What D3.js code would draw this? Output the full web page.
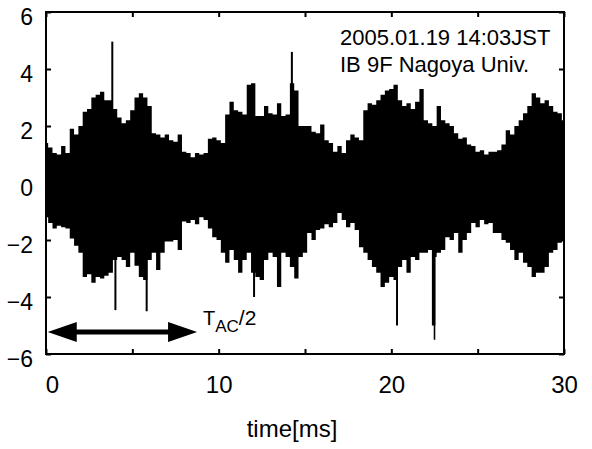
<!DOCTYPE html>
<html>
<head>
<meta charset="utf-8">
<script src="https://cdn.jsdelivr.net/npm/d3@7"></script>
<style>
  body{margin:0;background:#fff;}
  svg text{font-family:"Liberation Sans",Arial,sans-serif;fill:#000;}
</style>
</head>
<body>
<svg id="chart" width="592" height="449"></svg>
<script>
// envelope of the noise signal, read every 0.25 ms (0..30 ms)
var step = 0.25;
var upper = [
  1.4,1.25,1.05,1.0,1.3,1.05,1.9,1.7,2.0,2.5,2.6,3.0,3.1,3.2,2.9,2.9,2.6,2.3,2.1,2.2,2.55,3.0,3.15,3.0,2.7,1.75,1.7,1.6,1.7,1.5,1.45,
  1.7,1.1,1.05,0.9,1.05,1.0,1.05,1.55,1.6,1.5,1.4,2.4,2.85,2.55,2.5,2.4,3.45,3.5,2.35,2.35,2.7,2.45,2.4,2.8,2.35,2.4,3.5,3.25,2.0,2.0,
  2.0,1.8,1.75,2.05,1.5,1.4,1.1,1.3,1.05,1.5,1.7,1.6,1.5,2.55,2.8,2.75,2.9,3.1,3.25,3.3,3.45,2.9,2.7,2.8,2.6,2.85,3.3,2.2,2.1,2.0,
  2.7,2.2,2.1,2.0,1.75,1.55,1.6,1.35,1.3,1.1,1.15,1.0,1.1,1.1,1.15,1.35,1.85,1.7,2.0,2.2,2.45,2.7,3.15,3.0,2.8,2.9,2.7,2.5,2.45,2.2
];
var lower = [
  -1.2,-1.4,-1.6,-1.5,-1.55,-1.6,-1.95,-2.2,-2.45,-3.3,-3.2,-3.5,-3.3,-3.35,-3.25,-3.15,-2.7,-2.6,-2.7,-2.95,-2.45,-2.9,-3.3,-3.4,-2.7,-2.45,-3.05,-2.45,-2.05,-2.05,-2.0,
  -2.35,-1.35,-1.4,-1.3,-1.45,-1.2,-1.3,-1.6,-1.9,-2.0,-2.45,-2.8,-2.35,-2.7,-3.15,-2.7,-2.45,-3.15,-3.3,-3.4,-2.7,-2.45,-2.6,-3.65,-2.45,-2.6,-2.95,-3.35,-2.6,-2.45,
  -1.75,-2.0,-1.65,-1.6,-1.45,-1.55,-1.4,-1.05,-1.3,-1.55,-1.4,-1.65,-2.25,-2.45,-2.7,-2.95,-3.15,-3.65,-3.5,-3.3,-3.4,-2.95,-2.7,-3.15,-2.6,-2.7,-2.45,-2.45,-2.35,-2.6,
  -2.45,-2.35,-1.9,-2.0,-1.75,-2.45,-2.0,-1.75,-1.4,-1.55,-1.3,-1.45,-1.4,-1.75,-1.75,-2.0,-2.1,-2.35,-2.7,-2.45,-2.8,-2.95,-3.3,-3.15,-3.15,-2.95,-2.45,-2.35,-2.1,-2.0
];
// isolated spikes
var spikeT = [3.84, 4.02, 5.83, 12.05, 14.24, 20.33, 22.45, 22.5];
var spikeV = [4.96, -4.46, -4.5, -4.0, 4.6, -5.0, -5.0, -5.5];
var spikeW = [2, 2, 2, 2, 2, 2, 3.5, 1.6];

var xTicks = [0, 10, 20, 30];
var xMinor = [0, 5, 10, 15, 20, 25, 30];
var yTicks = [-6, -4, -2, 0, 2, 4, 6];
var infoLines = ["2005.01.19 14:03JST", "IB 9F Nagoya Univ."];
var arrowSpan = [0.1, 8.75];

var svg = d3.select("#chart");
var x = d3.scaleLinear().domain([0, 30]).range([46, 564]);
var y = d3.scaleLinear().domain([-6, 6]).range([354, 12]);

var samples = upper.map(function(u, i){ return {t: i * step, hi: u, lo: lower[i]}; });

svg.append("clipPath").attr("id", "clip")
    .append("rect").attr("x", 46).attr("y", 12).attr("width", 518).attr("height", 342);

var plot = svg.append("g").attr("clip-path", "url(#clip)");

var area = d3.area()
    .x(function(d){ return x(d.t); })
    .y0(function(d){ return y(d.lo); })
    .y1(function(d){ return y(d.hi); })
    .curve(d3.curveStep);

plot.append("path").datum(samples)
    .attr("d", area)
    .attr("fill", "#000");

plot.selectAll("line.spike").data(spikeT).enter().append("line")
    .attr("class", "spike")
    .attr("x1", function(d){ return x(d); })
    .attr("x2", function(d){ return x(d); })
    .attr("y1", y(0))
    .attr("y2", function(d, i){ return y(spikeV[i]); })
    .attr("stroke", "#000")
    .attr("stroke-width", function(d, i){ return spikeW[i]; });

// axes (ticks inward)
var bottom = svg.append("g").attr("transform", "translate(0,354)")
    .call(d3.axisBottom(x).tickValues(xMinor).tickSizeInner(-5).tickSizeOuter(0).tickPadding(22)
        .tickFormat(function(d){ return xTicks.indexOf(d) >= 0 ? d : ""; }));
bottom.selectAll("text").style("font-size", "24px")
    .attr("dx", function(d){ return d === 0 ? 6 : 0; });

svg.append("g").attr("transform", "translate(0,12)")
    .call(d3.axisTop(x).tickValues(xMinor).tickSizeInner(-5).tickSizeOuter(0).tickFormat(""));

var left = svg.append("g").attr("transform", "translate(46,0)")
    .call(d3.axisLeft(y).tickValues(yTicks).tickSizeInner(-5).tickSizeOuter(0).tickPadding(13));
left.selectAll("text").style("font-size", "23px").attr("dy", "0.55em");

svg.append("g").attr("transform", "translate(564,0)")
    .call(d3.axisRight(y).tickValues(yTicks).tickSizeInner(-5).tickSizeOuter(0).tickFormat(""));

svg.selectAll(".domain").remove();
svg.selectAll(".tick line").attr("stroke", "#000").attr("stroke-width", 2);

svg.append("rect")
    .attr("x", 46).attr("y", 12).attr("width", 518).attr("height", 342)
    .attr("fill", "none").attr("stroke", "#000").attr("stroke-width", 2);

// annotation
svg.selectAll("text.info").data(infoLines).enter().append("text")
    .attr("class", "info")
    .attr("x", 340)
    .attr("y", function(d, i){ return 45 + i * 27; })
    .style("font-size", "22px")
    .text(function(d){ return d; });

// T_AC/2 arrow
var ay = 332;
var ax0 = x(arrowSpan[0]), ax1 = x(arrowSpan[1]);
svg.append("line")
    .attr("x1", ax0 + 20).attr("x2", ax1 - 20).attr("y1", ay).attr("y2", ay)
    .attr("stroke", "#000").attr("stroke-width", 5);
svg.append("path")
    .attr("d", "M" + ax0 + "," + ay + "L" + (ax0 + 29) + "," + (ay - 10) + "L" + (ax0 + 29) + "," + (ay + 10) + "Z")
    .attr("fill", "#000");
svg.append("path")
    .attr("d", "M" + ax1 + "," + ay + "L" + (ax1 - 29) + "," + (ay - 10) + "L" + (ax1 - 29) + "," + (ay + 10) + "Z")
    .attr("fill", "#000");

var tl = svg.append("text").attr("x", 203).attr("y", 325).style("font-size", "20px");
tl.append("tspan").text("T");
tl.append("tspan").attr("dy", 7).style("font-size", "17px").text("AC");
tl.append("tspan").attr("dy", -7).style("font-size", "21px").text("/2");

// axis title
svg.append("text")
    .attr("x", 292).attr("y", 437)
    .attr("text-anchor", "middle")
    .style("font-size", "24px")
    .text("time[ms]");
</script>
</body>
</html>
